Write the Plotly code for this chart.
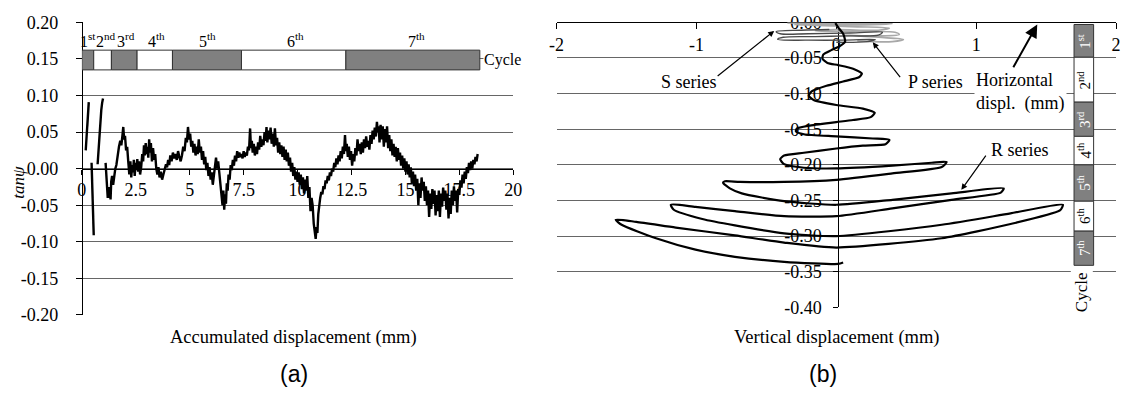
import plotly.graph_objects as go

W, H = 1125, 401

# ---------------- (a) tan(psi) against accumulated displacement ----------------
acc_disp = [
    0.18, 0.22, 0.26, 0.32, None,
    0.45, 0.48, 0.52, 0.55, None,
    0.73, 0.80, 0.86, 0.90, 0.94, 0.98, None,
    1.10, 1.14, 1.18, 1.20, 1.24, 1.27, 1.30, 1.33, 1.36, 1.40, 1.45, 1.50, 1.55,
    1.60, 1.66, 1.72, 1.78, 1.83, 1.88, 1.92, 1.96, 2.00, 2.05, 2.10, 2.15, 2.20,
    2.25, 2.29, 2.33, 2.37, 2.41, 2.45, 2.49, 2.53, 2.57, 2.61, 2.65, 2.70, 2.75,
    2.80, 2.84, 2.88, 2.92, 2.96, 3.00, 3.04, 3.08, 3.12, 3.16, 3.20, 3.25, 3.30,
    3.35, 3.40, 3.45, 3.50, 3.55, 3.60, 3.66, 3.72, 3.78, 3.84, 3.90, 3.95, 4.00,
    4.05, 4.10, 4.16, 4.22, 4.28, 4.34, 4.40, 4.46, 4.52, 4.58, 4.64, 4.70, 4.76,
    4.82, 4.87, 4.92, 4.97, 5.02, 5.07, 5.12, 5.17, 5.22, 5.27, 5.32, 5.37, 5.42,
    5.47, 5.52, 5.57, 5.62, 5.67, 5.72, 5.77, 5.82, 5.87, 5.92, 5.97, 6.02, 6.07,
    6.12, 6.17, 6.22, 6.27, 6.32, 6.37, 6.42, 6.47, 6.52, 6.56, 6.60, 6.64, 6.68,
    6.72, 6.76, 6.80, 6.85, 6.90, 6.95, 7.00, 7.05, 7.10, 7.15, 7.20, 7.25, 7.30,
    7.35, 7.40, 7.45, 7.50, 7.55, 7.60, 7.65, 7.70, 7.75, 7.80, 7.84, 7.88, 7.92,
    7.97, 8.02, 8.07, 8.12, 8.17, 8.22, 8.27, 8.32, 8.37, 8.42, 8.47, 8.52, 8.56,
    8.60, 8.65, 8.70, 8.75, 8.80, 8.85, 8.90, 8.95, 9.00, 9.05, 9.10, 9.15, 9.20,
    9.25, 9.30, 9.35, 9.40, 9.45, 9.50, 9.55, 9.60, 9.65, 9.70, 9.75, 9.80, 9.85,
    9.90, 9.95, 10.00, 10.05, 10.10, 10.15, 10.20, 10.25, 10.30, 10.35, 10.40,
    10.45, 10.50, 10.55, 10.60, 10.65, 10.70, 10.75, 10.80, 10.84, 10.88, 10.92,
    10.96, 11.00, 11.05, 11.10, 11.15, 11.20, 11.25, 11.30, 11.35, 11.40, 11.45,
    11.50, 11.55, 11.60, 11.65, 11.70, 11.75, 11.80, 11.85, 11.90, 11.95, 12.00,
    12.05, 12.10, 12.15, 12.20, 12.24, 12.28, 12.33, 12.38, 12.43, 12.48, 12.53,
    12.58, 12.63, 12.68, 12.73, 12.78, 12.83, 12.88, 12.93, 12.98, 13.03, 13.08,
    13.13, 13.18, 13.23, 13.28, 13.33, 13.38, 13.43, 13.48, 13.53, 13.58, 13.63,
    13.68, 13.72, 13.76, 13.80, 13.85, 13.90, 13.95, 14.00, 14.05, 14.10, 14.15,
    14.20, 14.25, 14.30, 14.35, 14.40, 14.45, 14.50, 14.55, 14.60, 14.65, 14.70,
    14.75, 14.80, 14.85, 14.90, 14.95, 15.00, 15.05, 15.10, 15.15, 15.20, 15.25,
    15.30, 15.35, 15.40, 15.45, 15.50, 15.55, 15.60, 15.65, 15.70, 15.75, 15.80,
    15.85, 15.90, 15.95, 16.00, 16.05, 16.10, 16.15, 16.20, 16.25, 16.30, 16.35,
    16.40, 16.45, 16.50, 16.55, 16.60, 16.65, 16.70, 16.75, 16.80, 16.85, 16.90,
    16.95, 17.00, 17.05, 17.10, 17.15, 17.20, 17.25, 17.30, 17.35, 17.40, 17.45,
    17.50, 17.55, 17.60, 17.65, 17.70, 17.75, 17.80, 17.85, 17.90, 17.95, 18.00,
    18.05, 18.10, 18.15, 18.20, 18.25, 18.30, 18.35,
]
tan_psi = [
    0.025, 0.050, 0.070, 0.091, None,
    0.008, -0.030, -0.070, -0.091, None,
    0.006, 0.040, 0.070, 0.080, 0.090, 0.096, None,
    0.008, -0.010, -0.035, -0.040, -0.025, -0.040, -0.030, -0.042, -0.018, -0.010, -0.022, -0.008, 0.000,
    0.005, 0.020, 0.030, 0.038, 0.032, 0.045, 0.057, 0.040, 0.045, 0.025, 0.030, 0.010, -0.008,
    0.010, -0.012, 0.005, -0.005, 0.012, -0.010, 0.008, -0.002, 0.013, -0.004, 0.010, -0.008, 0.002,
    0.020, 0.010, 0.032, 0.018, 0.035, 0.020, 0.030, 0.015, 0.040, 0.022, 0.035, 0.010, 0.028,
    0.012, 0.020, 0.000, -0.008, 0.002, -0.012, -0.004, -0.015, -0.008, 0.000, 0.006, 0.002, 0.012,
    0.005, 0.018, 0.010, 0.022, 0.014, 0.020, 0.012, 0.024, 0.016, 0.010, 0.018, 0.030, 0.024,
    0.042, 0.036, 0.057, 0.040, 0.048, 0.030, 0.038, 0.022, 0.034, 0.018, 0.030, 0.020, 0.040,
    0.022, 0.030, 0.012, 0.024, 0.006, 0.016, -0.002, 0.008, -0.010, 0.002, -0.015, -0.005, -0.022,
    -0.008, 0.008, 0.015, 0.000, 0.010, -0.005, -0.020, -0.035, -0.050, -0.030, -0.056, -0.035, -0.048,
    -0.020, -0.030, -0.008, -0.015, 0.005, -0.002, 0.012, 0.004, 0.018, 0.010, 0.024, 0.015, 0.022,
    0.016, 0.020, 0.014, 0.024, 0.016, 0.022, 0.018, 0.030, 0.025, 0.055, 0.028, 0.038, 0.022,
    0.034, 0.018, 0.030, 0.020, 0.036, 0.026, 0.045, 0.030, 0.040, 0.032, 0.050, 0.038, 0.057,
    0.036, 0.052, 0.040, 0.056, 0.034, 0.048, 0.030, 0.055, 0.032, 0.042, 0.022, 0.036, 0.020,
    0.032, 0.016, 0.030, 0.012, 0.026, 0.010, 0.022, 0.004, 0.015, -0.004, 0.008, -0.010, 0.002,
    -0.015, -0.004, -0.018, -0.005, -0.022, -0.008, -0.028, -0.012, -0.034, -0.015, -0.030,
    -0.010, -0.040, -0.025, -0.058, -0.040, -0.050, -0.075, -0.090, -0.096, -0.080, -0.088,
    -0.062, -0.050, -0.040, -0.032, -0.035, -0.024, -0.028, -0.016, -0.020, -0.010, -0.016,
    -0.005, -0.010, 0.000, -0.004, 0.008, 0.002, 0.014, 0.006, 0.018, 0.010, 0.024,
    0.014, 0.030, 0.020, 0.046, 0.024, 0.034, 0.016, 0.030, 0.012, 0.024, 0.004,
    0.020, 0.010, 0.028, 0.018, 0.040, 0.024, 0.034, 0.020, 0.036, 0.022, 0.040,
    0.028, 0.044, 0.030, 0.038, 0.026, 0.046, 0.034, 0.052, 0.040, 0.056, 0.044,
    0.064, 0.050, 0.058, 0.036, 0.060, 0.040, 0.058, 0.030, 0.054, 0.036, 0.058,
    0.028, 0.046, 0.024, 0.040, 0.018, 0.034, 0.016, 0.030, 0.010, 0.028, 0.012,
    0.022, 0.004, 0.018, 0.000, 0.014, -0.004, 0.010, -0.008, 0.006, -0.012, 0.002,
    -0.020, -0.004, -0.024, -0.008, -0.030, -0.014, -0.050, -0.020, -0.040, -0.012, -0.030,
    -0.018, -0.044, -0.024, -0.050, -0.030, -0.066, -0.034, -0.055, -0.028, -0.048, -0.030,
    -0.064, -0.036, -0.058, -0.030, -0.066, -0.034, -0.052, -0.026, -0.044, -0.030, -0.056,
    -0.034, -0.068, -0.040, -0.062, -0.030, -0.050, -0.024, -0.044, -0.030, -0.060, -0.028,
    -0.036, -0.016, -0.026, -0.008, -0.020, -0.004, -0.014, 0.002, -0.006, 0.008, -0.002,
    0.010, 0.000, 0.012, 0.006, 0.016, 0.010, 0.020,
]

a_xticks = [0, 2.5, 5, 7.5, 10, 12.5, 15, 17.5, 20]
a_xtext = ["0", "2.5", "5", "7.5", "10", "12.5", "15", "17.5", "20"]
a_yticks = [-0.20, -0.15, -0.10, -0.05, 0.00, 0.05, 0.10, 0.15, 0.20]
a_ytext = ["-0.20", "-0.15", "-0.10", "-0.05", "0.00", "0.05", "0.10", "0.15", "0.20"]

cycle_names = ["1<sup>st</sup>", "2<sup>nd</sup>", "3<sup>rd</sup>", "4<sup>th</sup>",
               "5<sup>th</sup>", "6<sup>th</sup>", "7<sup>th</sup>"]
cycle_edges_a = [0.0, 0.55, 1.37, 2.56, 4.20, 7.40, 12.24, 18.45]
cycle_label_x_a = [0.30, 1.10, 2.05, 3.45, 5.82, 9.89, 15.53]

# ---------------- (b) displacement path ----------------
r_h = [-0.007, 0.021, 0.049, 0.063, 0.028, -0.035, -0.092, -0.099, -0.063, 0.014,
       0.120, 0.183, 0.162, 0.049, -0.070, -0.176, -0.197, -0.162, 0.0, 0.190,
       0.275, 0.246, 0.120, 0.0, -0.197, -0.282, -0.289, -0.232, 0.0, 0.261,
       0.380, 0.352, 0.190, 0.0, -0.232, -0.373, -0.401, -0.373, -0.232, 0.0,
       0.401, 0.683, 0.789, 0.754, 0.401, 0.0, -0.373, -0.690, -0.796, -0.810,
       -0.761, -0.676, -0.373, 0.0, 0.401, 0.824, 1.197, 1.176, 0.824, 0.401,
       0.0, -0.373, -0.725, -1.007, -1.183, -1.162, -0.958, -0.725, -0.373, 0.0,
       0.754, 1.246, 1.620, 1.599, 1.246, 0.754, 0.0, -0.373, -0.725, -1.148,
       -1.430, -1.577, -1.535, -1.289, -1.007, -0.725, -0.373, 0.014, 0.049]
r_v = [-0.001, -0.009, -0.016, -0.027, -0.033, -0.039, -0.045, -0.051, -0.057, -0.060,
       -0.065, -0.072, -0.077, -0.083, -0.089, -0.097, -0.103, -0.109, -0.116, -0.121,
       -0.127, -0.133, -0.137, -0.140, -0.145, -0.149, -0.153, -0.157, -0.160, -0.163,
       -0.165, -0.171, -0.173, -0.177, -0.183, -0.187, -0.192, -0.199, -0.204, -0.205,
       -0.201, -0.197, -0.196, -0.203, -0.212, -0.221, -0.224, -0.224, -0.223, -0.225,
       -0.233, -0.240, -0.251, -0.256, -0.249, -0.240, -0.233, -0.239, -0.249, -0.261,
       -0.272, -0.272, -0.265, -0.259, -0.256, -0.263, -0.276, -0.285, -0.296, -0.300,
       -0.284, -0.268, -0.256, -0.264, -0.283, -0.303, -0.316, -0.309, -0.299, -0.288,
       -0.280, -0.277, -0.284, -0.303, -0.319, -0.329, -0.336, -0.339, -0.337]

s_h = [-0.05, -0.25, -0.43, -0.40, -0.20, 0.10, 0.33, 0.30, 0.10, -0.15,
       -0.38, -0.42, -0.20, 0.05, 0.28, 0.22, 0.0]
s_v = [-0.010, -0.011, -0.013, -0.016, -0.016, -0.015, -0.014, -0.018, -0.019, -0.020,
       -0.021, -0.024, -0.025, -0.025, -0.024, -0.027, -0.028]

p_h = [-0.35, 0.0, 0.40, 0.05, -0.30, 0.10, 0.38, 0.30, 0.0, -0.15,
       0.20, 0.42, 0.45, 0.25, 0.05, 0.30, 0.48, 0.40, 0.15]
p_v = [-0.001, -0.002, -0.002, -0.004, -0.003, -0.006, -0.008, -0.011, -0.010, -0.012,
       -0.013, -0.014, -0.017, -0.019, -0.018, -0.021, -0.024, -0.027, -0.026]

b_xticks = [-2, -1, 0, 1, 2]
b_xtext = ["-2", "-1", "0", "1", "2"]
b_yticks = [0.00, -0.05, -0.10, -0.15, -0.20, -0.25, -0.30, -0.35, -0.40]
b_ytext = ["0.00", "-0.05", "-0.10", "-0.15", "-0.20", "-0.25", "-0.30", "-0.35", "-0.40"]

cycle_edges_b = [-0.003, -0.049, -0.112, -0.160, -0.200, -0.251, -0.293, -0.341]

SERIF = "Liberation Serif"
SANS = "Liberation Sans"
GRID = "#666666"
BAR_GRAY = "#808080"


def fx(p):
    return p / W


def fy(p):
    return 1 - p / H


fig = go.Figure()

fig.add_trace(go.Scatter(x=acc_disp, y=tan_psi, mode="lines", connectgaps=False,
                         line=dict(color="black", width=2.4), xaxis="x", yaxis="y",
                         hoverinfo="skip"))

fig.add_trace(go.Scatter(x=p_h, y=p_v, mode="lines", line=dict(color="#a8a8a8", width=1.6, shape="spline"),
                         xaxis="x2", yaxis="y2", hoverinfo="skip"))
fig.add_trace(go.Scatter(x=s_h, y=s_v, mode="lines", line=dict(color="#4a4a4a", width=1.4, shape="spline"),
                         xaxis="x2", yaxis="y2", hoverinfo="skip"))
fig.add_trace(go.Scatter(x=r_h, y=r_v, mode="lines",
                         line=dict(color="black", width=2.2, shape="spline", smoothing=0.6),
                         xaxis="x2", yaxis="y2", hoverinfo="skip"))

tickfont = dict(family=SERIF, size=18, color="black")

fig.update_layout(
    width=W, height=H,
    margin=dict(l=0, r=0, t=0, b=0),
    paper_bgcolor="white", plot_bgcolor="white",
    showlegend=False,
    xaxis=dict(domain=[fx(75), fx(513)], range=[0, 20], anchor="free", position=fy(167),
               tickvals=a_xticks, ticktext=a_xtext, ticks="outside", ticklen=5,
               tickcolor="black", showline=True, linecolor="black", linewidth=1,
               showgrid=False, zeroline=False, tickfont=tickfont),
    yaxis=dict(domain=[fy(321), fy(13)], range=[-0.2, 0.2], anchor="free", position=fx(75),
               tickvals=a_yticks, ticktext=a_ytext, ticks="outside", ticklen=6,
               ticklabelstandoff=14,
               tickcolor="black", showline=True, linecolor="black", linewidth=1,
               showgrid=True, gridcolor=GRID, gridwidth=1, zeroline=False, tickfont=tickfont),
    xaxis2=dict(domain=[fx(557), 1.0], range=[-2, 2], anchor="free", position=fy(13),
                side="bottom", tickvals=b_xticks, ticktext=b_xtext, ticks="outside", ticklen=6,
                ticklabelstandoff=0, tickcolor="black", showline=True, linecolor="black",
                linewidth=1, showgrid=False, zeroline=False, tickfont=tickfont,
                layer="below traces"),
    yaxis2=dict(domain=[fy(313), fy(13)], range=[-0.4, 0.0], anchor="free", position=fx(843),
                tickvals=b_yticks, ticktext=b_ytext, ticks="outside", ticklen=5,
                ticklabelstandoff=8, tickcolor="black", showline=True, linecolor="black",
                linewidth=1, showgrid=True, gridcolor=GRID, gridwidth=1, zeroline=False,
                tickfont=tickfont, layer="below traces"),
)

shapes = []
annotations = []

# cycle strip above the tan(psi) trace
for i in range(7):
    shapes.append(dict(type="rect", xref="x", yref="y",
                       x0=cycle_edges_a[i], x1=cycle_edges_a[i + 1], y0=0.135, y1=0.162,
                       fillcolor=BAR_GRAY if i % 2 == 0 else "white",
                       line=dict(color="#333333", width=1)))
    annotations.append(dict(xref="x", yref="y", x=cycle_label_x_a[i], y=0.176,
                            text=cycle_names[i], showarrow=False, xanchor="center",
                            yanchor="middle", font=dict(family=SERIF, size=16, color="black")))
annotations.append(dict(xref="x", yref="y", x=18.6, y=0.148, text="Cycle", showarrow=False,
                        xanchor="left", yanchor="middle", bgcolor="white", borderpad=0,
                        font=dict(family=SERIF, size=16, color="black")))

# cycle strip at the right of the displacement path
for i in range(7):
    gray = i % 2 == 0
    shapes.append(dict(type="rect", xref="x2", yref="y2", x0=1.70, x1=1.84,
                       y0=cycle_edges_b[i + 1], y1=cycle_edges_b[i],
                       fillcolor=BAR_GRAY if gray else "white",
                       line=dict(color="#333333", width=1)))
    annotations.append(dict(xref="x2", yref="y2", x=1.77,
                            y=(cycle_edges_b[i] + cycle_edges_b[i + 1]) / 2,
                            text=cycle_names[i], showarrow=False, textangle=-90,
                            xanchor="center", yanchor="middle",
                            font=dict(family=SERIF, size=15, color="white" if gray else "black")))
annotations.append(dict(xref="x2", yref="y2", x=1.755, y=-0.379, text="Cycle", showarrow=False,
                        textangle=-90, xanchor="center", yanchor="middle", bgcolor="white",
                        font=dict(family=SERIF, size=17, color="black")))

# axis titles and panel tags
annotations += [
    dict(xref="paper", yref="paper", x=fx(290), y=fy(345), text="Accumulated displacement (mm)",
         showarrow=False, xanchor="center", yanchor="middle",
         font=dict(family=SERIF, size=18.5, color="black")),
    dict(xref="paper", yref="paper", x=fx(11), y=fy(181), text="<i>tanψ</i>", textangle=-90,
         showarrow=False, xanchor="center", yanchor="middle",
         font=dict(family=SERIF, size=17, color="black")),
    dict(xref="paper", yref="paper", x=fx(841), y=fy(345), text="Vertical displacement (mm)",
         showarrow=False, xanchor="center", yanchor="middle",
         font=dict(family=SERIF, size=18.5, color="black")),
    dict(xref="paper", yref="paper", x=fx(290), y=fy(383), text="(a)",
         showarrow=False, xanchor="center", yanchor="middle",
         font=dict(family=SANS, size=23, color="black")),
    dict(xref="paper", yref="paper", x=fx(828), y=fy(383), text="(b)",
         showarrow=False, xanchor="center", yanchor="middle",
         font=dict(family=SANS, size=23, color="black")),
]

# series call-outs
label_font = dict(family=SERIF, size=18, color="black")
annotations += [
    dict(xref="x2", yref="y2", x=-1.056, y=-0.084, text="S series", showarrow=False,
         xanchor="center", yanchor="middle", font=label_font),
    dict(xref="x2", yref="y2", x=-0.444, y=-0.012, ax=-0.859, ay=-0.077, axref="x2", ayref="y2",
         text="", showarrow=True, arrowhead=2, arrowsize=1, arrowwidth=1.2, arrowcolor="black"),
    dict(xref="x2", yref="y2", x=0.711, y=-0.083, text="P series", showarrow=False,
         xanchor="center", yanchor="middle", font=label_font),
    dict(xref="x2", yref="y2", x=0.261, y=-0.028, ax=0.465, ay=-0.079, axref="x2", ayref="y2",
         text="", showarrow=True, arrowhead=2, arrowsize=1, arrowwidth=1.2, arrowcolor="black"),
    dict(xref="x2", yref="y2", x=0.986, y=-0.098, text="Horizontal<br>displ.  (mm)",
         showarrow=False, xanchor="left", yanchor="middle", align="left", bgcolor="white",
         font=label_font),
    dict(xref="x2", yref="y2", x=1.437, y=-0.003, ax=1.26, ay=-0.065, axref="x2", ayref="y2",
         text="", showarrow=True, arrowhead=2, arrowsize=1.3, arrowwidth=2, arrowcolor="black"),
    dict(xref="x2", yref="y2", x=1.317, y=-0.179, text="R series", showarrow=False,
         xanchor="center", yanchor="middle", font=label_font),
    dict(xref="x2", yref="y2", x=0.894, y=-0.235, ax=1.077, ay=-0.185, axref="x2", ayref="y2",
         text="", showarrow=True, arrowhead=2, arrowsize=1, arrowwidth=1.2, arrowcolor="black"),
]

fig.update_layout(shapes=shapes, annotations=annotations)

fig.write_html("out.html")
